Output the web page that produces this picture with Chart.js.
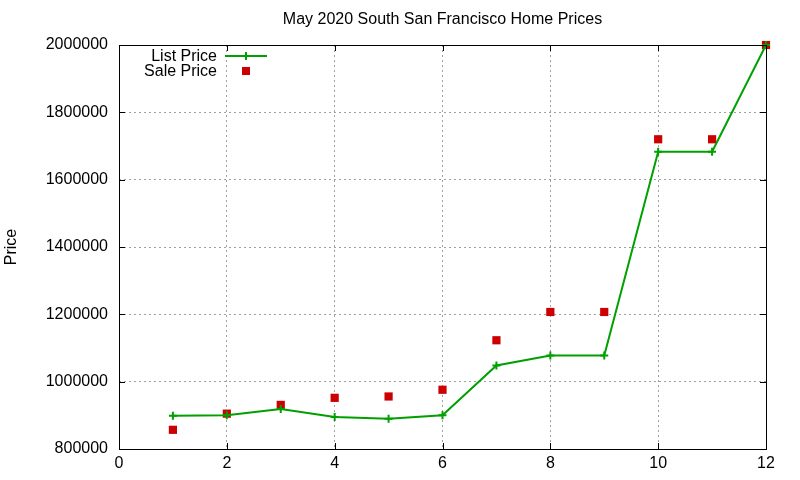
<!DOCTYPE html>
<html lang="en">
<head>
  <meta charset="UTF-8">
  <title>May 2020 South San Francisco Home Prices</title>
  <script src="https://cdn.jsdelivr.net/npm/chart.js"></script>
  <style>
    body { margin: 0; background: #fff; }
    #wrap { width: 800px; height: 480px; }
  </style>
</head>
<body>
  <div id="wrap"><canvas id="priceChart" width="800" height="480"></canvas></div>

  <script>
    // values
    const months = [1, 2, 3, 4, 5, 6, 7, 8, 9, 10, 11, 12];
    const listPrice = [899000, 900000, 919000, 895000, 890000, 900000, 1048000, 1078000, 1078000, 1683000, 1683000, 2000000];
    const salePrice = [857000, 905000, 931000, 952000, 956000, 976000, 1123000, 1207000, 1207000, 1720000, 1720000, 2000000];
    const xTicks = [0, 2, 4, 6, 8, 10, 12];
    const yTicks = [800000, 1000000, 1200000, 1400000, 1600000, 1800000, 2000000];
    const chartTitle = 'May 2020 South San Francisco Home Prices';

    const green = '#00a000';
    const red = '#cc0000';
    const font = { family: "'Liberation Sans', Arial, sans-serif", size: 16, weight: 'normal' };

    // gnuplot-like frame with inward tick marks on all four sides, title over the plot area
    const framePlugin = {
      id: 'frame',
      afterDraw(chart) {
        const { ctx, chartArea: a, scales } = chart;
        ctx.save();
        ctx.strokeStyle = '#000';
        ctx.lineWidth = 1;
        ctx.beginPath();
        xTicks.forEach(v => {
          const px = Math.round(scales.x.getPixelForValue(v)) + 0.5;
          ctx.moveTo(px, a.bottom); ctx.lineTo(px, a.bottom - 6);
          ctx.moveTo(px, a.top); ctx.lineTo(px, a.top + 6);
        });
        yTicks.forEach(v => {
          const py = Math.round(scales.y.getPixelForValue(v)) + 0.5;
          ctx.moveTo(a.left, py); ctx.lineTo(a.left + 6, py);
          ctx.moveTo(a.right, py); ctx.lineTo(a.right - 6, py);
        });
        ctx.stroke();
        ctx.strokeRect(Math.round(a.left) + 0.5, Math.round(a.top) + 0.5,
          Math.round(a.right - a.left), Math.round(a.bottom - a.top));

        ctx.font = `${font.size}px ${font.family}`;
        ctx.fillStyle = '#000';
        ctx.textAlign = 'center';
        ctx.textBaseline = 'middle';
        ctx.fillText(chartTitle, (a.left + a.right) / 2, a.top - 25);
        ctx.restore();
      }
    };

    // legend in the top-left corner, text right-aligned before the sample
    const keyPlugin = {
      id: 'key',
      afterDraw(chart) {
        const { ctx, chartArea: a } = chart;
        const tx = a.left + 98, sx = a.left + 127;
        ctx.save();
        ctx.font = `${font.size}px ${font.family}`;
        ctx.fillStyle = '#000';
        ctx.textAlign = 'right';
        ctx.textBaseline = 'middle';
        ctx.fillText('List Price', tx, a.top + 12);
        ctx.fillText('Sale Price', tx, a.top + 27);

        ctx.strokeStyle = green;
        ctx.lineWidth = 2;
        ctx.beginPath();
        ctx.moveTo(tx + 8, a.top + 11); ctx.lineTo(tx + 50, a.top + 11);
        ctx.moveTo(sx, a.top + 7); ctx.lineTo(sx, a.top + 15);
        ctx.stroke();

        ctx.fillStyle = red;
        ctx.fillRect(sx - 4, a.top + 22, 8, 8);
        ctx.restore();
      }
    };

    const ctx = document.getElementById('priceChart').getContext('2d');

    new Chart(ctx, {
      type: 'line',
      data: {
        datasets: [
          {
            label: 'List Price',
            data: months.map((m, i) => ({ x: m, y: listPrice[i] })),
            borderColor: green,
            backgroundColor: green,
            borderWidth: 2,
            tension: 0,
            pointStyle: 'cross',
            pointRadius: 4,
            pointBorderWidth: 2,
            clip: false
          },
          {
            label: 'Sale Price',
            data: months.map((m, i) => ({ x: m, y: salePrice[i] })),
            showLine: false,
            borderColor: red,
            backgroundColor: red,
            pointStyle: 'rect',
            pointRadius: 5.8,
            pointBorderWidth: 0,
            clip: false
          }
        ]
      },
      options: {
        responsive: false,
        animation: false,
        layout: { padding: { left: 0, right: 34, top: 45, bottom: 0 } },
        scales: {
          x: {
            type: 'linear',
            min: 0,
            max: 12,
            afterBuildTicks: s => { s.ticks = xTicks.map(v => ({ value: v })); },
            afterFit: s => { s.height = 31; },
            ticks: { color: '#000', font, padding: 5, maxRotation: 0 },
            grid: {
              color: c => (c.tick.value === 0 || c.tick.value === 12) ? 'rgba(0,0,0,0)' : '#a0a0a0',
              drawTicks: false
            },
            border: { display: false, dash: [2, 3] }
          },
          y: {
            min: 800000,
            max: 2000000,
            afterBuildTicks: s => { s.ticks = yTicks.map(v => ({ value: v })); },
            afterFit: s => { s.width = 119; },
            ticks: { color: '#000', font, padding: 11, callback: v => String(v) },
            grid: {
              color: c => (c.tick.value === 800000 || c.tick.value === 2000000) ? 'rgba(0,0,0,0)' : '#a0a0a0',
              drawTicks: false
            },
            border: { display: false, dash: [2, 3] },
            title: { display: true, text: 'Price', color: '#000', font, padding: { top: 2, bottom: 0 } }
          }
        },
        plugins: {
          legend: { display: false },
          tooltip: { enabled: false },
          title: { display: false }
        }
      },
      plugins: [framePlugin, keyPlugin]
    });
  </script>
</body>
</html>
